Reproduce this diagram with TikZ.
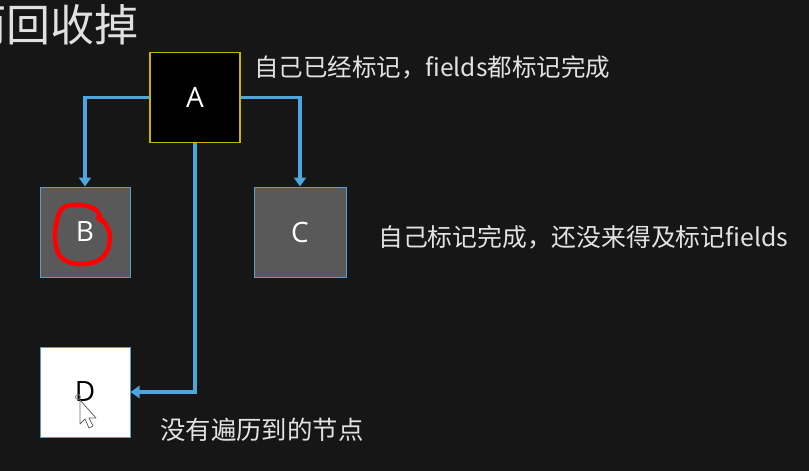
\documentclass[tikz,border=0pt]{standalone}
\usepackage{fontspec}
\newfontfamily\cjk{Noto Sans CJK SC}
\newfontfamily\lat{Open Sans}
\usetikzlibrary{arrows.meta}
\definecolor{bg}{HTML}{161616}
\definecolor{conn}{HTML}{4DA6DE}
\definecolor{ybord}{HTML}{C8B400}
\definecolor{bbord}{HTML}{5A9FC8}
\definecolor{boxgray}{HTML}{595959}
\definecolor{txt}{HTML}{E2E2E2}
\tikzset{
  box/.style={minimum width=90pt,minimum height=90pt,inner sep=0pt,line width=1pt,font=\lat\fontsize{28}{30}\selectfont},
  graybox/.style={box,fill=boxgray,draw=bbord,text=white},
  cn/.style={draw=conn,line width=3.2pt,-{Triangle[length=9pt,width=12pt]}},
  desc/.style={anchor=west,inner sep=0pt,text=txt},
}
\begin{document}
\begin{tikzpicture}[x=1pt,y=-1pt]
\fill[bg] (0,0) rectangle (809,471);
\useasboundingbox (0,0) rectangle (809,471);
\begin{scope}
\clip (0,0) rectangle (809,471);
\node[anchor=west,inner sep=0pt,text=white!88!black,font=\cjk\fontsize{44}{46}\selectfont] (title) at (-38,25) {而回收掉};
\end{scope}
\node[box,fill=black,draw=ybord,line width=1.5pt,text=white] (A) at (195,97.5) {A};
\node[graybox] (B) at (85,232) {B};
\node[graybox,minimum width=92pt] (C) at (300,232) {C};
\node[box,fill=white,draw=bbord,text=black] (D) at (85,392) {D};
\draw[cn] (A.west) -| (B.north);
\draw[cn] (A.east) -| (C.north);
\draw[cn] (A.south) |- (D.east);
\node[desc,font=\cjk\fontsize{24.5}{27}\selectfont] (t1) at (254,67) {自己已经标记，fields都标记完成};
\node[desc,font=\cjk\fontsize{24.8}{27}\selectfont] (t2) at (378,237) {自己标记完成，还没来得及标记fields};
\node[desc,font=\cjk\fontsize{25.4}{28}\selectfont] (t3) at (160,430) {没有遍历到的节点};
% red scribble around B
\draw[red,line width=4.5pt,line cap=round,line join=round] plot[smooth,tension=0.7] coordinates {(101,221) (96,210) (80,205) (63,208) (56,225) (56,245) (63,259) (83,264) (103,257) (110,237) (104,222) (98,218)};
% mouse cursor
\draw[gray,line width=0.8pt] (78,397) circle (2.5);
\filldraw[fill=white,draw=gray!80!black,line width=0.8pt,line join=round] (80,400) -- (80,424) -- (85,419) -- (89,428) -- (93,426) -- (89,418) -- (96,418) -- cycle;
\end{tikzpicture}
\end{document}
